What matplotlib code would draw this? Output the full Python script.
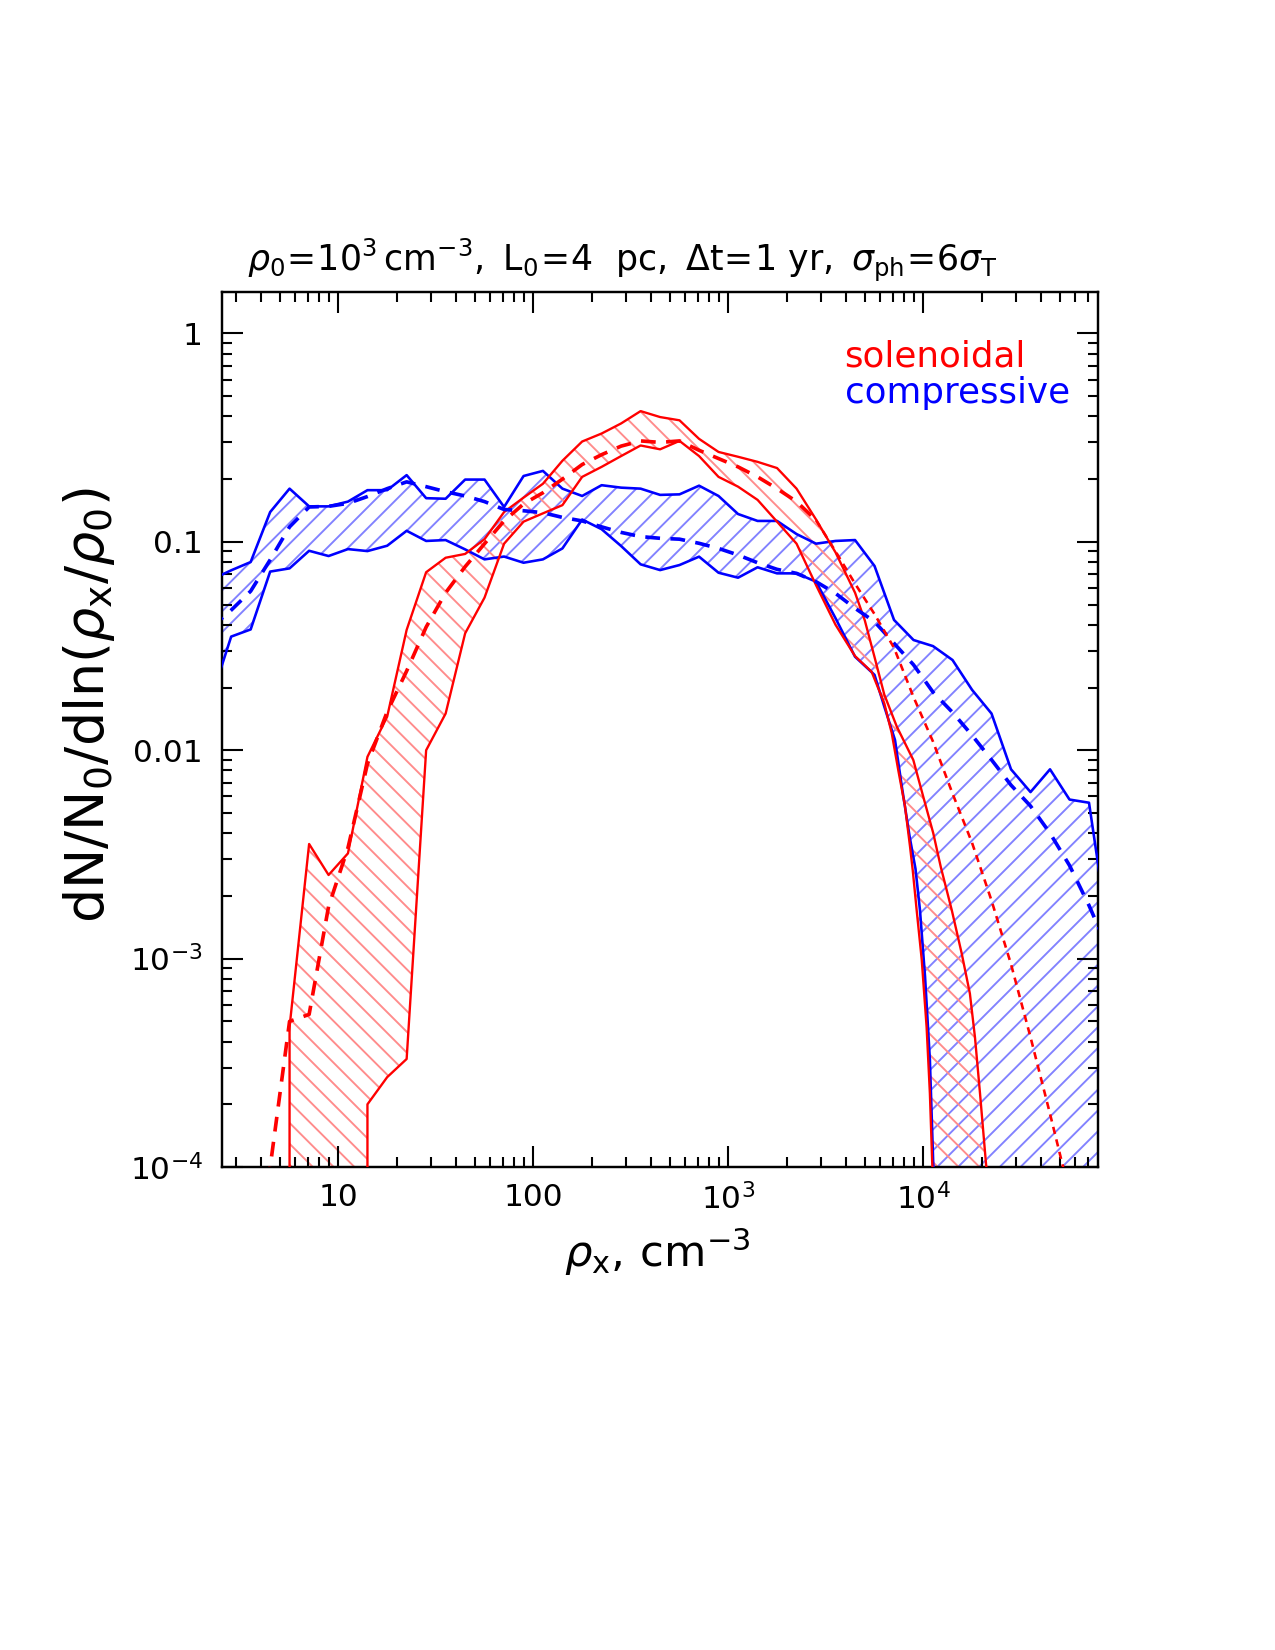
import numpy as np
import matplotlib
matplotlib.use("Agg")
import matplotlib.pyplot as plt
from matplotlib.ticker import NullFormatter, LogLocator

plt.rcParams['font.family'] = ['DejaVu Sans']
plt.rcParams['mathtext.fontset'] = 'dejavusans'
plt.rcParams['hatch.linewidth'] = 1.1
plt.rcParams['lines.scale_dashes'] = False

# ---------------- data (rho_x in cm^-3, dN/N0/dln) ----------------
grid_x = [2.24, 2.82, 3.55, 4.47, 5.62, 7.08, 8.91, 11.2, 14.1, 17.8, 22.4, 28.2,
          35.5, 44.7, 56.2, 70.8, 89.1, 112, 141, 178, 224, 282, 355, 447, 562,
          708, 891, 1122, 1413, 1778, 2239, 2818, 3548, 4467, 5623, 7079, 8913,
          11220, 14125, 17783, 22387, 28184, 35481, 44668, 56234, 70795, 89125]

# compressive: upper bound, mean, lower bound
comp_up = [0.066, 0.073, 0.080, 0.139, 0.180, 0.148, 0.148, 0.156, 0.177, 0.177,
           0.209, 0.162, 0.161, 0.199, 0.199, 0.147, 0.207, 0.219, 0.180, 0.166,
           0.187, 0.182, 0.180, 0.168, 0.169, 0.186, 0.166, 0.136, 0.126, 0.126,
           0.109, 0.098, 0.101, 0.102, 0.0766, 0.0422, 0.0338, 0.0316, 0.0271,
           0.0195, 0.0150, 0.0081, 0.0063, 0.0081, 0.0058, 0.0056, 0.0013]
comp_mean = [0.039, 0.047, 0.058, 0.082, 0.118, 0.147, 0.148, 0.153, 0.165, 0.180,
             0.194, 0.184, 0.174, 0.166, 0.156, 0.143, 0.141, 0.138, 0.131, 0.126,
             0.118, 0.111, 0.106, 0.104, 0.103, 0.0984, 0.093, 0.0865, 0.0794,
             0.0738, 0.0706, 0.0644, 0.0566, 0.048, 0.0414, 0.0326, 0.0257, 0.019,
             0.0152, 0.0118, 0.0090, 0.0068, 0.0054, 0.0040, 0.0028, 0.0018, 0.0011]
comp_lo_x = [2.24, 2.82, 3.55, 4.47, 5.62, 7.08, 8.91, 11.2, 14.1, 17.8, 22.4, 28.2,
             35.5, 44.7, 56.2, 70.8, 89.1, 112, 141, 178, 224, 282, 355, 447, 562,
             708, 891, 1122, 1413, 1778, 2239, 2818, 3548, 4467, 5623,
             6310, 7161, 7762, 8511, 9120, 9616, 10210, 10810, 11250, 11480, 89125]
comp_lo = [0.018, 0.0351, 0.038, 0.072, 0.0746, 0.0906, 0.0855, 0.0923, 0.0903,
           0.0958, 0.113, 0.101, 0.102, 0.092, 0.0824, 0.085, 0.0794, 0.0824,
           0.093, 0.128, 0.115, 0.0955, 0.078, 0.0732, 0.0774, 0.0849, 0.0711,
           0.0673, 0.0755, 0.0706, 0.0706, 0.0644, 0.0430, 0.0281, 0.0230,
           0.0162, 0.0112, 0.0067, 0.00385, 0.0027, 0.00171, 8.2e-4, 3.27e-4,
           1.03e-4, 9e-5, 9e-5]

# solenoidal: upper bound, mean, lower bound
sol_up_x = [5.62, 5.62, 7.08, 8.91, 11.2, 14.1, 17.8, 22.4, 28.2, 35.5, 44.7, 56.2,
            70.8, 89.1, 112, 141, 178, 224, 282, 355, 447, 562, 708, 891, 1122,
            1413, 1778, 2239, 2818, 3548, 4467, 5012, 5623, 6310, 7311, 8892,
            10000, 11250, 12300, 14000, 15740, 17340, 18410, 19540, 20990, 21380]
sol_up = [9e-5, 4.7e-4, 3.55e-3, 2.52e-3, 3.2e-3, 9.3e-3, 0.0145, 0.0378, 0.0715,
          0.0839, 0.0875, 0.103, 0.139, 0.163, 0.19, 0.245, 0.303, 0.331, 0.370,
          0.424, 0.397, 0.383, 0.312, 0.270, 0.256, 0.242, 0.226, 0.180, 0.128,
          0.089, 0.057, 0.042, 0.028, 0.0185, 0.0130, 0.00897, 0.00598, 0.0040,
          0.00275, 0.00171, 0.00106, 6.8e-4, 4.2e-4, 2.26e-4, 1.03e-4, 9e-5]
sol_lo_x = [14.1, 14.1, 17.8, 22.4, 28.2, 35.5, 44.7, 56.2, 70.8, 89.1, 112, 141,
            178, 224, 282, 355, 447, 562, 708, 891, 1122, 1413, 1778, 2239, 2818,
            3548, 4467, 5433, 6310, 6887, 7447, 8054, 8551, 8831, 9247, 9817,
            10400, 10810, 11120, 11220]
sol_lo = [9e-5, 2.0e-4, 2.7e-4, 3.3e-4, 0.0100, 0.0150, 0.0364, 0.054, 0.098, 0.125,
          0.137, 0.150, 0.205, 0.229, 0.258, 0.290, 0.278, 0.305, 0.258, 0.205,
          0.184, 0.159, 0.125, 0.098, 0.062, 0.040, 0.0283, 0.0238, 0.0168, 0.0121,
          0.0080, 0.0054, 0.00345, 0.00265, 0.00171, 9.9e-4, 4.7e-4, 2.26e-4,
          1.03e-4, 9e-5]
sol_mean_x = [3.55, 4.47, 5.62, 7.08, 8.91, 11.2, 14.1, 17.8, 22.4, 28.2, 35.5, 44.7,
              56.2, 70.8, 89.1, 112, 141, 178, 224, 282, 355, 447, 562, 708, 891,
              1122, 1413, 1778, 2239, 2818, 3548, 4467, 5623, 7079, 8913, 11220,
              14125, 17783, 22387, 28184, 35481, 44668, 56234]
sol_mean = [1e-6, 1.0e-4, 5.0e-4, 5.4e-4, 1.78e-3, 3.4e-3, 8.6e-3, 0.0153, 0.024,
            0.039, 0.057, 0.076, 0.098, 0.126, 0.152, 0.172, 0.20, 0.235, 0.262,
            0.288, 0.305, 0.30, 0.305, 0.275, 0.251, 0.229, 0.205, 0.180, 0.156,
            0.127, 0.090, 0.063, 0.045, 0.031, 0.018, 0.011, 0.0062, 0.0036,
            0.0019, 9.4e-4, 4.2e-4, 1.8e-4, 7.5e-5]

x_ticks = [10, 100, 1e3, 1e4]
x_ticklabels = ['10', '100', r'$10^3$', r'$10^4$']
y_ticks = [1e-4, 1e-3, 1e-2, 1e-1, 1]
y_ticklabels = [r'$10^{-4}$', r'$10^{-3}$', '0.01', '0.1', '1']

RED = '#ff0000'
BLUE = '#0000ff'

fig = plt.figure(figsize=(10.2, 13.2), dpi=125)
ax = fig.add_axes([0.1741, 0.2927, 0.6868, 0.5303])
ax.set_xscale('log')
ax.set_yscale('log')

# hatched bands
bx = np.concatenate([grid_x, comp_lo_x[::-1]])
by = np.concatenate([comp_up, comp_lo[::-1]])
ax.fill(bx, by, facecolor='none', edgecolor='#8282ff', hatch='//', linewidth=0, zorder=1)
rx = np.concatenate([sol_up_x, sol_lo_x[::-1]])
ry = np.concatenate([sol_up, sol_lo[::-1]])
ax.fill(rx, ry, facecolor='none', edgecolor='#ff8c8c', hatch='\\\\', linewidth=0, zorder=1)

# bound lines
ax.plot(grid_x, comp_up, color=BLUE, lw=1.5, zorder=3)
ax.plot(comp_lo_x, comp_lo, color=BLUE, lw=1.5, zorder=3)
ax.plot(sol_up_x, sol_up, color=RED, lw=1.35, zorder=3)
ax.plot(sol_lo_x, sol_lo, color=RED, lw=1.35, zorder=3)

# mean curves
ax.plot(grid_x, comp_mean, color=BLUE, lw=2.1, dashes=(8.5, 6.0), zorder=4)
smx = np.array(sol_mean_x)
smy = np.array(sol_mean)
thick = smx <= 2818
thin = smx >= 2818
ax.plot(smx[thick], smy[thick], color=RED, lw=2.1, dashes=(8.5, 6.0), zorder=4)
ax.plot(smx[thin], smy[thin], color=RED, lw=1.5, dashes=(4.2, 3.2), zorder=4)

ax.set_xlim(2.53, 7.84e4)
ax.set_ylim(1e-4, 1.58)

ax.set_xticks(x_ticks)
ax.set_xticklabels(x_ticklabels)
ax.set_yticks(y_ticks)
ax.set_yticklabels(y_ticklabels)
ax.xaxis.set_minor_locator(LogLocator(base=10, subs=np.arange(2, 10)))
ax.yaxis.set_minor_locator(LogLocator(base=10, subs=np.arange(2, 10)))
ax.xaxis.set_minor_formatter(NullFormatter())
ax.yaxis.set_minor_formatter(NullFormatter())
ax.tick_params(which='both', direction='in', top=True, right=True, width=1.2,
               labelsize=18)
ax.tick_params(which='major', length=12)
ax.tick_params(which='minor', length=5.8)
ax.tick_params(axis='x', which='major', pad=9)
ax.tick_params(axis='y', which='major', pad=11)
for s in ax.spines.values():
    s.set_linewidth(1.4)

ax.text(0.711, 0.9154, 'solenoidal', color=RED, fontsize=20.5, transform=ax.transAxes,
        va='baseline', ha='left')
ax.text(0.711, 0.8728, 'compressive', color=BLUE, fontsize=20.5, transform=ax.transAxes,
        va='baseline', ha='left')

fig.text(0.4885, 1 - 271 / 1650,
         r'$\rho_0\!=\!10^3\,\mathrm{cm}^{-3},\ \mathrm{L}_0\!=\!4\ \ \mathrm{pc},\ '
         r'\Delta\mathrm{t}\!=\!1\ \mathrm{yr},\ \sigma_{\mathrm{ph}}\!=\!6\sigma_{\mathrm{T}}$',
         fontsize=20, ha='center', va='baseline')
fig.text(89 / 1275, 1 - 705 / 1650,
         r'$\mathrm{dN/N_0/dln}\left(\rho_{\mathrm{x}}/\rho_0\right)$',
         fontsize=31, rotation=90, ha='center', va='center')
fig.text(657 / 1275, 1 - 1252 / 1650, r'$\rho_{\mathrm{x}},\,\mathrm{cm}^{-3}$',
         fontsize=25, ha='center', va='center')

fig.savefig('out.png', dpi=125)
